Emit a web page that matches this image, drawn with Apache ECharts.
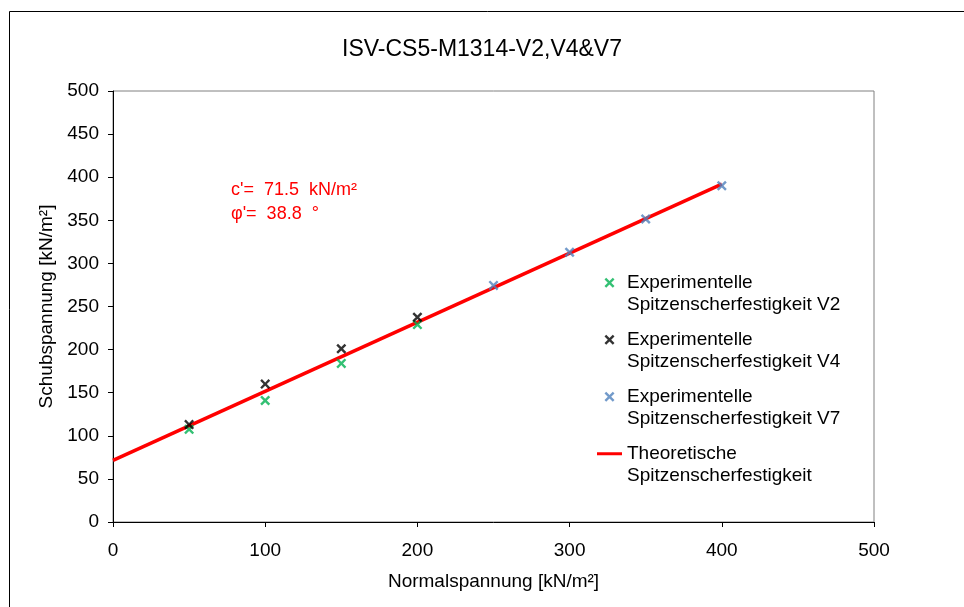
<!DOCTYPE html>
<html>
<head>
<meta charset="utf-8">
<script src="https://cdn.jsdelivr.net/npm/echarts@6/dist/echarts.min.js"></script>
<style>
  html, body { margin: 0; padding: 0; background: #fff; }
  #chart { width: 964px; height: 607px; }
</style>
</head>
<body>
<div id="chart"></div>
<script>
// values
var v2X = [50, 100, 150, 200];
var v2Y = [107.5, 141, 184, 229];
var v4X = [50, 100, 150, 200];
var v4Y = [113, 160, 201, 237.5];
var v7X = [250, 300, 350, 400];
var v7Y = [274.5, 313, 351.5, 390];
var theoryX = [0, 400];
var theoryY = [71.5, 392];

var seriesNames = [
  "Experimentelle Spitzenscherfestigkeit V2",
  "Experimentelle Spitzenscherfestigkeit V4",
  "Experimentelle Spitzenscherfestigkeit V7",
  "Theoretische Spitzenscherfestigkeit"
];
// leading empty line keeps the icon level with the first text line
var legendLabels = [
  "\nExperimentelle\nSpitzenscherfestigkeit V2",
  "\nExperimentelle\nSpitzenscherfestigkeit V4",
  "\nExperimentelle\nSpitzenscherfestigkeit V7",
  "\nTheoretische\nSpitzenscherfestigkeit"
];

var FONT = "'Liberation Sans', Arial, sans-serif";
var CROSS = "path://M0,1.7L1.7,0L5,3.3L8.3,0L10,1.7L6.7,5L10,8.3L8.3,10L5,6.7L1.7,10L0,8.3L3.3,5Z";
var BAR = "path://M0,0H25V3H0Z";

function pairs(xs, ys) {
  return xs.map(function (x, i) { return [x, ys[i]]; });
}

function scatter(name, xs, ys, color) {
  return {
    name: name,
    type: "scatter",
    symbol: CROSS,
    symbolSize: 10,
    itemStyle: { color: color },
    data: pairs(xs, ys),
    z: 3
  };
}

var myChart = echarts.init(document.getElementById("chart"));

var option = {
  animation: false,
  backgroundColor: "#fff",
  title: {
    text: "ISV-CS5-M1314-V2,V4&V7",
    left: "center",
    top: 33,
    textStyle: { fontFamily: FONT, fontSize: 23, fontWeight: "normal", color: "#000" }
  },
  grid: {
    left: 113,
    right: 90,
    top: 91,
    bottom: 85,
    show: true,
    borderColor: "#808080",
    borderWidth: 1
  },
  legend: {
    orient: "vertical",
    left: 597,
    top: 249,
    padding: 0,
    itemWidth: 25,
    itemHeight: 10,
    itemGap: -10.5,
    formatter: function (name) {
      return legendLabels[seriesNames.indexOf(name)];
    },
    textStyle: {
      fontFamily: FONT,
      fontSize: 19,
      lineHeight: 22.5,
      color: "#000"
    },
    data: [
      { name: seriesNames[0] },
      { name: seriesNames[1] },
      { name: seriesNames[2] },
      { name: seriesNames[3], icon: BAR }
    ]
  },
  xAxis: {
    type: "value",
    min: 0,
    max: 500,
    interval: 100,
    name: "Normalspannung [kN/m²]",
    nameLocation: "middle",
    nameGap: 50,
    nameTextStyle: { fontFamily: FONT, fontSize: 19, color: "#000" },
    axisLine: { lineStyle: { color: "#000", width: 1 } },
    axisTick: { show: true, length: 5, lineStyle: { color: "#000" } },
    axisLabel: { fontFamily: FONT, fontSize: 19, color: "#000", margin: 19 },
    splitLine: { show: false }
  },
  yAxis: {
    type: "value",
    min: 0,
    max: 500,
    interval: 50,
    name: "Schubspannung [kN/m²]",
    nameLocation: "middle",
    nameGap: 56,
    nameTextStyle: { fontFamily: FONT, fontSize: 19, color: "#000" },
    axisLine: { show: true, lineStyle: { color: "#000", width: 1 } },
    axisTick: { show: true, length: 5, lineStyle: { color: "#000" } },
    axisLabel: { fontFamily: FONT, fontSize: 19, color: "#000", margin: 14 },
    splitLine: { show: false }
  },
  graphic: [
    {
      type: "rect",
      left: 7,
      top: 9,
      shape: { width: 1000, height: 700 },
      style: { fill: "none", stroke: "#000", lineWidth: 1 },
      silent: true
    },
    {
      type: "text",
      left: 231,
      top: 178,
      style: {
        text: "c'=  71.5  kN/m²\nφ'=  38.8  °",
        fill: "#ff0000",
        font: "18px " + FONT,
        lineHeight: 24
      }
    }
  ],
  series: [
    scatter(seriesNames[0], v2X, v2Y, "#00b050"),
    scatter(seriesNames[1], v4X, v4Y, "#000000"),
    scatter(seriesNames[2], v7X, v7Y, "#4f81bd"),
    {
      name: seriesNames[3],
      type: "line",
      symbol: "none",
      data: pairs(theoryX, theoryY),
      lineStyle: { color: "#ff0000", width: 3.5 },
      itemStyle: { color: "#ff0000" },
      z: 2
    }
  ]
};

myChart.setOption(option);
</script>
</body>
</html>
